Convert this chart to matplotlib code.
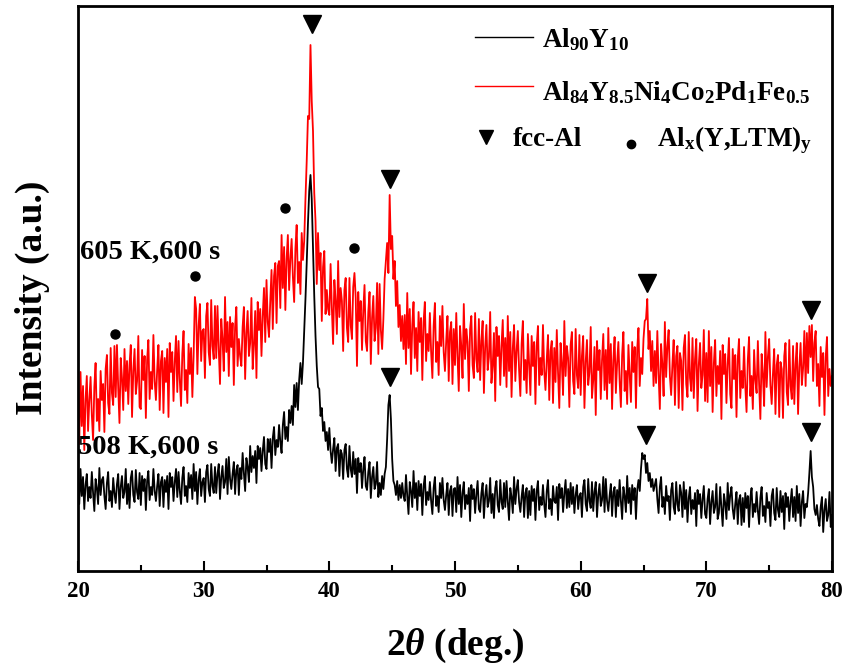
import numpy as np
import matplotlib
matplotlib.use("Agg")
import matplotlib.pyplot as plt

# ---------------- data ----------------
two_theta = np.linspace(20, 80, 601)   # measurement grid, 0.1 deg step

# 508 K, 600 s  (Al90Y10)  -- intensity in arbitrary units
black_508K = [
    91, 67, 102, 75, 94, 62, 86, 97, 70, 84,
    73, 99, 78, 60, 92, 83, 67, 103, 76, 91,
    94, 75, 62, 88, 99, 70, 80, 64, 93, 78,
    68, 87, 97, 62, 84, 95, 73, 79, 102, 67,
    87, 63, 93, 100, 76, 69, 101, 79, 72, 98,
    66, 95, 80, 92, 61, 90, 100, 71, 84, 76,
    102, 80, 70, 85, 97, 65, 89, 94, 64, 91,
    79, 95, 62, 98, 84, 94, 70, 89, 102, 74,
    99, 80, 67, 93, 104, 75, 85, 69, 98, 83,
    96, 72, 107, 80, 99, 67, 91, 102, 75, 89,
    93, 69, 99, 106, 82, 75, 107, 85, 78, 104,
    78, 97, 107, 72, 94, 105, 83, 89, 112, 77,
    114, 92, 82, 97, 109, 77, 101, 106, 76, 103,
    92, 118, 98, 80, 113, 104, 89, 125, 99, 115,
    103, 120, 88, 125, 112, 123, 100, 120, 134, 107,
    102, 132, 119, 132, 103, 133, 144, 116, 131, 124,
    146, 129, 118, 146, 159, 132, 144, 130, 161, 148,
    165, 146, 186, 164, 188, 161, 191, 208, 187, 208,
    240, 272, 308, 348, 380, 396, 372, 322, 275, 235,
    205, 184, 182, 155, 163, 140, 149, 130, 139, 121,
    143, 120, 108, 122, 133, 100, 123, 127, 95, 121,
    117, 92, 121, 127, 102, 94, 125, 102, 94, 119,
    97, 112, 78, 113, 99, 108, 83, 102, 114, 85,
    81, 99, 109, 73, 94, 104, 82, 87, 109, 74,
    88, 76, 95, 82, 97, 104, 132, 166, 176, 152,
    112, 90, 86, 76, 90, 71, 86, 73, 88, 75,
    70, 96, 75, 57, 89, 80, 64, 100, 73, 88,
    61, 90, 75, 87, 56, 85, 95, 66, 79, 71,
    89, 70, 57, 83, 94, 65, 75, 59, 88, 73,
    93, 71, 61, 76, 88, 56, 80, 85, 55, 82,
    83, 59, 94, 67, 86, 54, 78, 89, 62, 76,
    67, 83, 50, 86, 72, 82, 58, 77, 90, 62,
    59, 78, 88, 53, 75, 86, 64, 70, 93, 58,
    77, 53, 83, 90, 66, 59, 91, 69, 62, 88,
    64, 90, 69, 51, 83, 74, 58, 94, 67, 82,
    91, 69, 59, 74, 86, 54, 78, 83, 53, 80,
    56, 85, 70, 82, 51, 80, 90, 61, 74, 66,
    86, 67, 54, 80, 91, 62, 72, 56, 85, 70,
    68, 84, 51, 87, 73, 83, 59, 78, 91, 63,
    82, 64, 88, 67, 84, 58, 76, 86, 62, 75,
    78, 54, 84, 91, 67, 60, 92, 70, 63, 89,
    60, 79, 89, 54, 76, 87, 65, 71, 94, 59,
    92, 70, 60, 75, 87, 55, 79, 84, 54, 81,
    65, 91, 70, 52, 84, 75, 59, 95, 68, 83,
    57, 86, 71, 83, 52, 81, 91, 80, 102, 118,
    112, 116, 98, 108, 90, 98, 84, 92, 80, 86,
    92, 72, 58, 84, 94, 64, 74, 57, 85, 70,
    75, 51, 81, 88, 64, 57, 89, 67, 60, 86,
    78, 54, 89, 62, 81, 49, 73, 84, 57, 71,
    62, 78, 45, 81, 67, 77, 53, 72, 85, 57,
    53, 72, 82, 47, 69, 80, 58, 64, 87, 52,
    58, 84, 63, 45, 77, 68, 52, 88, 61, 76,
    84, 62, 52, 67, 79, 47, 71, 76, 46, 73,
    49, 78, 63, 75, 44, 73, 83, 54, 67, 59,
    79, 60, 47, 73, 84, 55, 65, 49, 78, 63,
    69, 45, 75, 82, 58, 51, 83, 61, 54, 80,
    59, 75, 42, 78, 64, 74, 50, 69, 82, 54,
    74, 50, 85, 58, 77, 45, 69, 80, 53, 67,
    64, 78, 98, 120, 94, 84, 62, 56, 66, 52,
    45, 64, 74, 39, 61, 72, 50, 56, 79, 44,
    56,
]

# 605 K, 600 s  (Al84Y8.5Ni4Co2Pd1Fe0.5)
red_605K = [
    175, 127, 199, 145, 185, 121, 171, 195, 140, 171,
    194, 156, 131, 184, 208, 150, 172, 140, 200, 171,
    187, 139, 202, 216, 168, 157, 223, 178, 166, 225,
    174, 226, 183, 148, 213, 193, 161, 222, 180, 210,
    167, 206, 226, 154, 200, 222, 177, 190, 235, 164,
    162, 221, 191, 215, 153, 211, 231, 172, 199, 182,
    236, 190, 171, 201, 226, 161, 210, 220, 158, 213,
    189, 222, 154, 228, 199, 219, 170, 209, 235, 179,
    230, 191, 165, 217, 240, 181, 201, 168, 227, 197,
    223, 174, 215, 274, 262, 197, 245, 267, 210, 240,
    242, 193, 255, 268, 219, 206, 271, 225, 212, 265,
    213, 265, 222, 187, 252, 232, 200, 274, 219, 249,
    195, 254, 224, 248, 186, 244, 264, 205, 232, 215,
    205, 244, 264, 192, 238, 260, 215, 228, 273, 202,
    226, 260, 193, 269, 241, 262, 215, 255, 283, 229,
    291, 249, 234, 270, 301, 242, 295, 308, 248, 305,
    310, 263, 336, 283, 324, 261, 312, 336, 281, 312,
    332, 294, 269, 322, 346, 288, 309, 277, 338, 311,
    330, 372, 410, 455, 452, 526, 470, 440, 378, 350,
    287, 338, 301, 318, 250, 304, 320, 257, 281, 262,
    256, 307, 263, 227, 291, 270, 237, 310, 254, 283,
    270, 220, 281, 293, 243, 229, 293, 246, 232, 284,
    298, 273, 205, 279, 250, 270, 221, 260, 286, 230,
    220, 259, 279, 207, 253, 275, 230, 243, 288, 217,
    287, 241, 222, 252, 292, 310, 328, 298, 376, 322,
    335, 292, 310, 265, 290, 244, 266, 230, 255, 222,
    256, 207, 278, 223, 262, 197, 246, 269, 213, 243,
    200, 259, 229, 253, 191, 249, 269, 210, 237, 220,
    258, 219, 193, 245, 268, 209, 229, 196, 255, 225,
    265, 219, 200, 230, 255, 190, 239, 249, 187, 242,
    206, 258, 215, 180, 245, 225, 193, 267, 212, 242,
    229, 180, 242, 255, 206, 193, 258, 212, 199, 252,
    191, 230, 250, 178, 224, 246, 201, 214, 259, 188,
    205, 238, 170, 244, 215, 235, 186, 225, 251, 195,
    233, 184, 255, 200, 239, 174, 223, 246, 190, 220,
    240, 201, 175, 227, 250, 191, 211, 178, 237, 207,
    176, 235, 205, 229, 167, 225, 245, 186, 213, 196,
    246, 200, 181, 211, 236, 171, 220, 230, 168, 223,
    189, 241, 198, 163, 228, 208, 176, 250, 195, 225,
    213, 164, 226, 239, 190, 177, 242, 196, 183, 236,
    176, 215, 235, 163, 209, 231, 186, 199, 244, 173,
    191, 224, 156, 230, 201, 221, 172, 211, 237, 181,
    221, 172, 243, 188, 227, 162, 211, 234, 178, 208,
    229, 190, 164, 216, 239, 180, 200, 167, 226, 196,
    169, 229, 199, 224, 163, 222, 243, 185, 213, 197,
    232, 250, 252, 272, 222, 240, 200, 230, 185, 220,
    188, 240, 197, 162, 227, 207, 175, 249, 194, 224,
    241, 195, 176, 206, 231, 166, 215, 225, 163, 218,
    210, 161, 223, 236, 187, 174, 239, 193, 180, 233,
    173, 212, 232, 160, 206, 228, 183, 196, 241, 170,
    218, 169, 240, 185, 224, 159, 208, 231, 175, 205,
    187, 220, 152, 226, 197, 217, 168, 207, 233, 177,
    163, 222, 192, 216, 154, 212, 232, 173, 200, 183,
    224, 185, 159, 211, 234, 175, 195, 162, 221, 191,
    178, 230, 187, 152, 217, 197, 165, 239, 184, 214,
    232, 186, 167, 197, 222, 157, 206, 216, 154, 209,
    202, 153, 215, 228, 179, 166, 231, 185, 172, 225,
    167, 207, 228, 157, 204, 228, 186, 203, 240, 185,
    238, 198, 245, 214, 246, 190, 228, 240, 185, 207,
    165, 224, 194, 218, 156, 214, 234, 175, 202, 185,
    195,
]

# phase markers
fcc_x = [38.6, 44.83, 65.25, 78.35, 44.83, 65.2, 78.35]
fcc_y = [547, 392, 288, 261, 194, 136, 139]
alx_x = [22.94, 29.31, 36.47, 41.96]
alx_y = [237, 295, 363, 323]

series_labels = [r"Al$_{90}$Y$_{10}$",
                 r"Al$_{84}$Y$_{8.5}$Ni$_{4}$Co$_{2}$Pd$_{1}$Fe$_{0.5}$"]
phase_labels = ["fcc-Al", r"Al$_\mathrm{x}$(Y,LTM)$_\mathrm{y}$"]
x_ticks = [20, 30, 40, 50, 60, 70, 80]

# ---------------- style ----------------
plt.rcParams['font.family'] = ['Liberation Serif', 'DejaVu Serif']
plt.rcParams['font.weight'] = 'bold'
plt.rcParams['mathtext.fontset'] = 'custom'
plt.rcParams['mathtext.rm'] = 'Liberation Serif:bold'
plt.rcParams['mathtext.it'] = 'Liberation Serif:italic:bold'
plt.rcParams['mathtext.bf'] = 'Liberation Serif:bold'

fig = plt.figure(figsize=(8.49, 6.70), dpi=100)
ax = fig.add_axes([78 / 849, 99 / 670, 754 / 849, 565 / 670])

ax.plot(two_theta, red_605K, color='#ff0000', lw=1.3, zorder=2)
ax.plot(two_theta, black_508K, color='black', lw=1.3, zorder=3)

ax.plot(fcc_x, fcc_y, linestyle='none', marker='v', ms=12.5,
        color='black', zorder=4)
ax.plot(alx_x, alx_y, linestyle='none', marker='o', ms=6.5,
        color='black', zorder=4)

ax.text(20.15, 312, "605 K,600 s", fontsize=20.5, fontweight='bold',
        ha='left', va='baseline', zorder=5)
ax.text(19.98, 117, "508 K,600 s", fontsize=20.5, fontweight='bold',
        ha='left', va='baseline', zorder=5)

ax.set_xlim(20, 80)
ax.set_ylim(0, 565)
ax.set_xticks(x_ticks)
ax.set_xticks(np.arange(25, 80, 10), minor=True)
ax.set_yticks([])
ax.tick_params(axis='x', which='major', direction='in', length=7, width=1.5,
               labelsize=16.5, pad=7)
ax.tick_params(axis='x', which='minor', direction='in', length=4, width=1.5)
for lab in ax.get_xticklabels():
    lab.set_fontweight('bold')
for sp in ax.spines.values():
    sp.set_linewidth(2)

ax.set_xlabel(r"2$\theta$ (deg.)", fontsize=27, fontweight='bold', va='baseline')
ax.xaxis.set_label_coords(0.5, (571 - 655) / 565)
ax.set_ylabel("Intensity (a.u.)", fontsize=27, fontweight='bold', va='center')
ax.yaxis.set_label_coords(-(78 - 32) / 754, 0.483)

# ---------------- legend (manual) ----------------
def ax_xy(px, py):
    return (px - 78) / 754, (571 - py) / 565

for (lc, ly, lab, by) in [('black', 37, series_labels[0], 47),
                          ('#ff0000', 86, series_labels[1], 100)]:
    x0, y0 = ax_xy(475, ly)
    x1, _ = ax_xy(533, ly)
    ax.plot([x0, x1], [y0, y0], color=lc, lw=1.0, transform=ax.transAxes)
    tx, ty = ax_xy(542, by)
    ax.text(tx, ty, lab, fontsize=19.5, fontweight='bold', ha='left',
            va='baseline', transform=ax.transAxes)

mx, my = ax_xy(486, 137)
ax.plot([mx], [my], marker='v', ms=9.5, color='black', linestyle='none',
        transform=ax.transAxes)
tx, ty = ax_xy(513, 146)
ax.text(tx, ty, phase_labels[0], fontsize=19.5, fontweight='bold', ha='left',
        va='baseline', transform=ax.transAxes)
mx, my = ax_xy(631, 144)
ax.plot([mx], [my], marker='o', ms=6, color='black', linestyle='none',
        transform=ax.transAxes)
tx, ty = ax_xy(657, 146)
ax.text(tx, ty, phase_labels[1], fontsize=19.5, fontweight='bold', ha='left',
        va='baseline', transform=ax.transAxes)

fig.savefig("out.png", dpi=100)
